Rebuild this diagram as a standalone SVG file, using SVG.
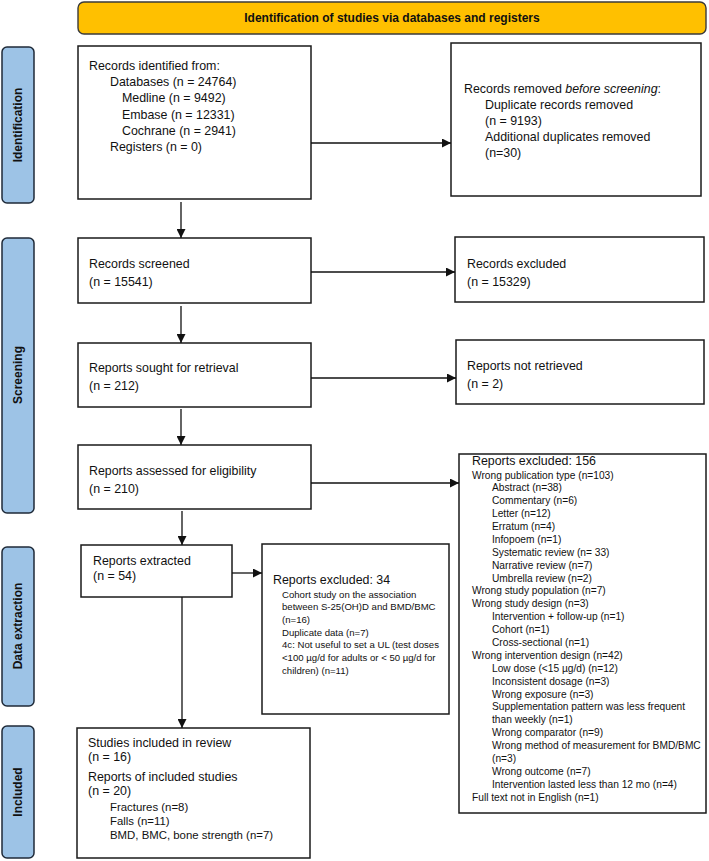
<svg xmlns="http://www.w3.org/2000/svg" width="709" height="861" viewBox="0 0 709 861">
<defs>
<style>
.box{fill:#fff;stroke:#1a1a1a;stroke-width:1.5}
.side{fill:#9dc3e6;stroke:#1f2a38;stroke-width:1.5}
.hdr{fill:#ffc000;stroke:#3a3a3a;stroke-width:1.4}
.t{font-family:"Liberation Sans",Arial,sans-serif;font-size:12.4px;fill:#111}
.s{font-family:"Liberation Sans",Arial,sans-serif;font-size:10.2px;fill:#111}
.x{font-family:"Liberation Sans",Arial,sans-serif;font-size:9.6px;fill:#111}
.m{font-family:"Liberation Sans",Arial,sans-serif;font-size:11.4px;fill:#111}
.b{font-family:"Liberation Sans",Arial,sans-serif;font-size:12px;font-weight:bold;fill:#111}
.c{stroke:#111;stroke-width:1.3;fill:none}
</style>
<marker id="ah" viewBox="0 0 10 10" refX="10" refY="5" markerWidth="9" markerHeight="9" markerUnits="userSpaceOnUse" orient="auto">
<path d="M0,0 L10,5 L0,10 z" fill="#111"/>
</marker>
</defs>
<rect width="709" height="861" fill="#fff"/>

<g id="header">
<rect class="hdr" x="78" y="2" width="628" height="32" rx="6"/>
<text class="b" x="392" y="22" text-anchor="middle" font-size="11.5">Identification of studies via databases and registers</text>
</g>

<g id="side-identification">
<rect class="side" x="2" y="47" width="32" height="156" rx="5"/>
<text class="b" transform="translate(22,125) rotate(-90)" text-anchor="middle">Identification</text>
</g>
<g id="side-screening">
<rect class="side" x="2" y="238" width="32" height="275" rx="5"/>
<text class="b" transform="translate(22,375) rotate(-90)" text-anchor="middle">Screening</text>
</g>
<g id="side-extraction">
<rect class="side" x="2" y="547" width="32" height="159" rx="5"/>
<text class="b" transform="translate(22,626) rotate(-90)" text-anchor="middle">Data extraction</text>
</g>
<g id="side-included">
<rect class="side" x="2" y="726" width="32" height="132" rx="5"/>
<text class="b" transform="translate(22,792) rotate(-90)" text-anchor="middle">Included</text>
</g>

<g id="records-identified">
<rect class="box" x="78" y="46" width="233" height="153"/>
<text class="t" x="89" y="70">Records identified from:</text>
<text class="t" x="110" y="86.2">Databases (n = 24764)</text>
<text class="t" x="122" y="102.4">Medline (n = 9492)</text>
<text class="t" x="122" y="118.6">Embase (n = 12331)</text>
<text class="t" x="122" y="134.8">Cochrane (n = 2941)</text>
<text class="t" x="110" y="151">Registers (n = 0)</text>
</g>

<g id="records-removed">
<rect class="box" x="451" y="43" width="250" height="153"/>
<text class="t" x="464" y="92.5" font-size="12.7">Records removed <tspan font-style="italic">before screening</tspan>:</text>
<text class="t" x="485" y="108.7" font-size="12.7">Duplicate records removed</text>
<text class="t" x="485" y="124.9" font-size="12.7">(n = 9193)</text>
<text class="t" x="485" y="141.1" font-size="12.7">Additional duplicates removed</text>
<text class="t" x="485" y="157.3" font-size="12.7">(n=30)</text>
</g>

<g id="records-screened">
<rect class="box" x="78" y="238" width="233" height="65"/>
<text class="t" x="89" y="267.5">Records screened</text>
<text class="t" x="89" y="285.5">(n = 15541)</text>
</g>

<g id="records-excluded">
<rect class="box" x="455" y="237" width="249" height="65"/>
<text class="t" x="467" y="267.5">Records excluded</text>
<text class="t" x="467" y="285.5">(n = 15329)</text>
</g>

<g id="reports-sought">
<rect class="box" x="78" y="343" width="233" height="64"/>
<text class="t" x="89" y="371.5">Reports sought for retrieval</text>
<text class="t" x="89" y="389.5">(n = 212)</text>
</g>

<g id="reports-not-retrieved">
<rect class="box" x="456" y="340" width="248" height="64"/>
<text class="t" x="467" y="369.5">Reports not retrieved</text>
<text class="t" x="467" y="387.5">(n = 2)</text>
</g>

<g id="reports-assessed">
<rect class="box" x="78" y="445" width="233" height="64"/>
<text class="t" x="89" y="475">Reports assessed for eligibility</text>
<text class="t" x="89" y="493">(n = 210)</text>
</g>

<g id="reports-excluded-156">
<rect class="box" x="459" y="454" width="247" height="359"/>
<text class="t" x="472" y="464.5" font-size="12.2">Reports excluded: 156</text>
<text class="s" x="472" y="478.5">Wrong publication type (n=103)</text>
<text class="s" x="492" y="491.4">Abstract (n=38)</text>
<text class="s" x="492" y="504.3">Commentary (n=6)</text>
<text class="s" x="492" y="517.1">Letter (n=12)</text>
<text class="s" x="492" y="530">Erratum (n=4)</text>
<text class="s" x="492" y="542.9">Infopoem (n=1)</text>
<text class="s" x="492" y="555.8">Systematic review (n= 33)</text>
<text class="s" x="492" y="568.7">Narrative review (n=7)</text>
<text class="s" x="492" y="581.5">Umbrella review (n=2)</text>
<text class="s" x="472" y="594.4">Wrong study population (n=7)</text>
<text class="s" x="472" y="607.3">Wrong study design (n=3)</text>
<text class="s" x="492" y="620.2">Intervention + follow-up (n=1)</text>
<text class="s" x="492" y="633.1">Cohort (n=1)</text>
<text class="s" x="492" y="645.9">Cross-sectional (n=1)</text>
<text class="s" x="472" y="658.8">Wrong intervention design (n=42)</text>
<text class="s" x="492" y="671.7">Low dose (&lt;15 µg/d) (n=12)</text>
<text class="s" x="492" y="684.6">Inconsistent dosage (n=3)</text>
<text class="s" x="492" y="697.5">Wrong exposure (n=3)</text>
<text class="s" x="492" y="710.3">Supplementation pattern was less frequent</text>
<text class="s" x="492" y="723.2">than weekly (n=1)</text>
<text class="s" x="492" y="736.1">Wrong comparator (n=9)</text>
<text class="s" x="492" y="749">Wrong method of measurement for BMD/BMC</text>
<text class="s" x="492" y="761.9">(n=3)</text>
<text class="s" x="492" y="774.7">Wrong outcome (n=7)</text>
<text class="s" x="492" y="787.6">Intervention lasted less than 12 mo (n=4)</text>
<text class="s" x="472" y="800.5">Full text not in English (n=1)</text>
</g>

<g id="reports-extracted">
<rect class="box" x="81" y="545" width="151" height="52"/>
<text class="t" x="93" y="565">Reports extracted</text>
<text class="t" x="93" y="579.5">(n = 54)</text>
</g>

<g id="reports-excluded-34">
<rect class="box" x="262" y="544" width="187" height="170"/>
<text class="t" x="273" y="583.5" font-size="12.2">Reports excluded: 34</text>
<text class="x" x="282" y="597.5">Cohort study on the association</text>
<text class="x" x="282" y="610.2">between S-25(OH)D and BMD/BMC</text>
<text class="x" x="282" y="622.9">(n=16)</text>
<text class="x" x="282" y="635.6">Duplicate data (n=7)</text>
<text class="x" x="282" y="648.3">4c: Not useful to set a UL (test doses</text>
<text class="x" x="282" y="661">&lt;100 µg/d for adults or &lt; 50 µg/d for</text>
<text class="x" x="282" y="673.7">children) (n=11)</text>
</g>

<g id="studies-included">
<rect class="box" x="77" y="728" width="233" height="130"/>
<text class="t" x="88" y="747">Studies included in review</text>
<text class="t" x="88" y="761">(n = 16)</text>
<text class="t" x="88" y="780.5">Reports of included studies</text>
<text class="t" x="88" y="794.5">(n = 20)</text>
<text class="m" x="110" y="811">Fractures (n=8)</text>
<text class="m" x="110" y="825">Falls (n=11)</text>
<text class="m" x="110" y="839">BMD, BMC, bone strength (n=7)</text>
</g>

<g id="connectors">
<line class="c" x1="311" y1="143" x2="451" y2="143" marker-end="url(#ah)"/>
<line class="c" x1="311" y1="272" x2="455" y2="272" marker-end="url(#ah)"/>
<line class="c" x1="311" y1="378" x2="456" y2="378" marker-end="url(#ah)"/>
<line class="c" x1="311" y1="483" x2="459" y2="483" marker-end="url(#ah)"/>
<line class="c" x1="232" y1="573" x2="262" y2="573" marker-end="url(#ah)"/>
<line class="c" x1="181" y1="202" x2="181" y2="238" marker-end="url(#ah)"/>
<line class="c" x1="181" y1="306" x2="181" y2="343" marker-end="url(#ah)"/>
<line class="c" x1="181" y1="409" x2="181" y2="445" marker-end="url(#ah)"/>
<line class="c" x1="182" y1="511" x2="182" y2="545" marker-end="url(#ah)"/>
<line class="c" x1="182" y1="597" x2="182" y2="728" marker-end="url(#ah)"/>
</g>
</svg>
